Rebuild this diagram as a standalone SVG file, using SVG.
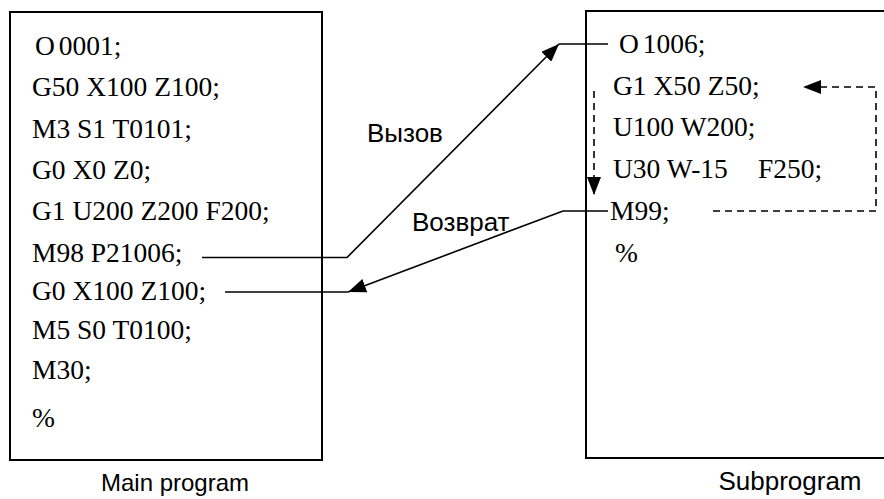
<svg xmlns="http://www.w3.org/2000/svg" width="884" height="499" viewBox="0 0 884 499">
<style>
.box{fill:#fff;stroke:#000;stroke-width:2}
.code{font-family:"Liberation Serif","Times New Roman",serif;font-size:27.5px;fill:#000}
.tight{word-spacing:-3px}
.lbl{font-family:"Liberation Sans",Arial,sans-serif;font-size:26px;fill:#000}
.ln{fill:none;stroke:#000;stroke-width:1.6}
.dash{fill:none;stroke:#000;stroke-width:1.6;stroke-dasharray:7 5}
</style>
<defs>
<marker id="ah" markerUnits="userSpaceOnUse" markerWidth="19" markerHeight="14" refX="18" refY="7" orient="auto"><path d="M0,0 L18,7 L0,14 z" fill="#000"/></marker>
</defs>
<rect width="884" height="499" fill="#fff"/>
<g id="main">
<rect class="box" x="10" y="12" width="312" height="448"/>
<text class="code tight" x="35" y="55">O 0001;</text>
<text class="code" x="32" y="96">G50 X100 Z100;</text>
<text class="code" x="32" y="138">M3 S1 T0101;</text>
<text class="code" x="32" y="179">G0 X0 Z0;</text>
<text class="code" x="32" y="220">G1 U200 Z200 F200;</text>
<text class="code" x="32" y="262">M98 P21006;</text>
<text class="code" x="32" y="300">G0 X100 Z100;</text>
<text class="code" x="32" y="339">M5 S0 T0100;</text>
<text class="code" x="32" y="379">M30;</text>
<text class="code" x="32" y="427">%</text>
</g>
<g id="main-label"><text class="lbl" x="175" y="491" text-anchor="middle" style="font-size:24px">Main program</text></g>
<g id="sub">
<rect class="box" x="586" y="11" width="320" height="447"/>
<text class="code tight" x="619" y="53">O 1006;</text>
<text class="code" x="613" y="95">G1 X50 Z50;</text>
<text class="code" x="613" y="136">U100 W200;</text>
<text class="code" x="613" y="178">U30 W-15<tspan x="758">F250;</tspan></text>
<text class="code" x="610" y="220">M99;</text>
<text class="code" x="615" y="262">%</text>
</g>
<g id="sub-label"><text class="lbl" x="790" y="490" text-anchor="middle">Subprogram</text></g>
<g id="connectors">
<path class="ln" d="M202,257.5 H347 L559,44" marker-end="url(#ah)"/>
<path class="ln" d="M559,44 H608"/>
<path class="ln" d="M608,211 H563 L348,292" marker-end="url(#ah)"/>
<path class="ln" d="M348,292 H225"/>
<path class="dash" d="M713,211 H876 V87 H803" marker-end="url(#ah)"/>
<path class="dash" d="M594,91 V195" marker-end="url(#ah)"/>
<text class="lbl" x="367" y="142">Вызов</text>
<text class="lbl" x="412" y="231">Возврат</text>
</g>
</svg>
